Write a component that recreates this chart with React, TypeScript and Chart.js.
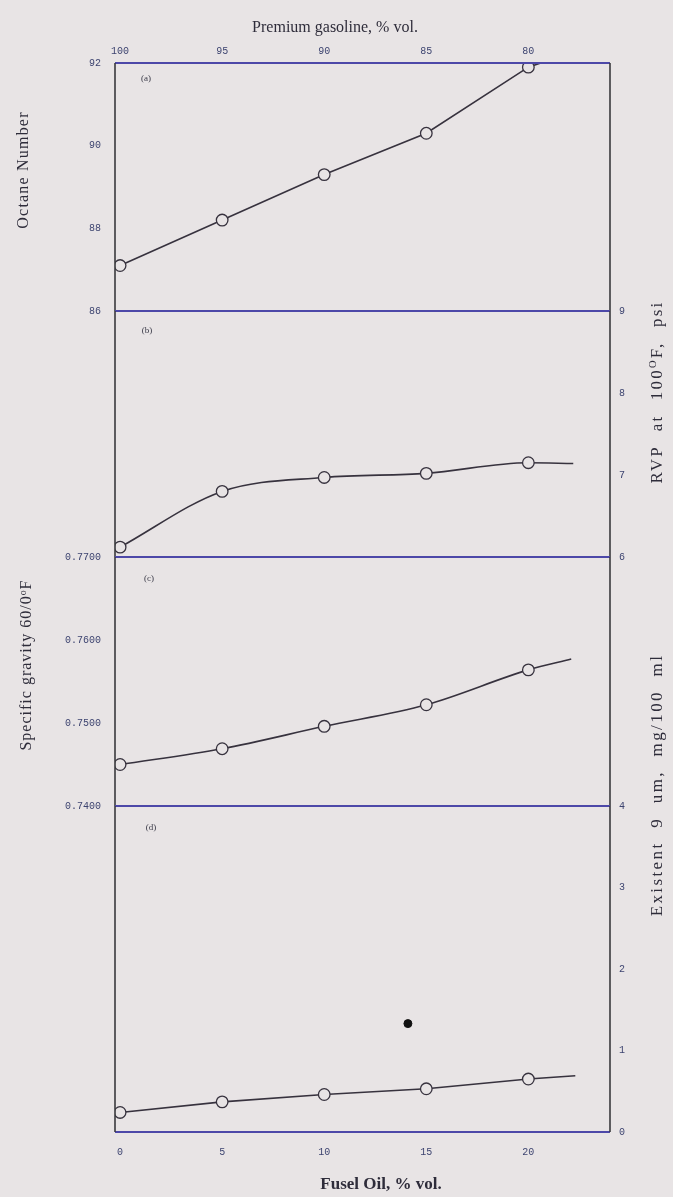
import React, { useEffect, useRef } from "react";
import { Chart, registerables } from "chart.js";

Chart.register(...registerables);

// ---------------- data ----------------
const fuselOil = [0, 5, 10, 15, 20];
const octaneNumber = [87.1, 88.2, 89.3, 90.3, 91.9];
const rvpPsi = [6.12, 6.8, 6.97, 7.02, 7.15];
const specificGravity = [0.745, 0.7469, 0.7496, 0.7522, 0.7564];
const existentGum = [0.24, 0.37, 0.46, 0.53, 0.65];
// where each drawn curve ends beyond the last measured point
const octaneTail = { x: 20.9, y: 92.05 };
const rvpTail = { x: 22.2, y: 7.14 };
const gravityTail = { x: 22.1, y: 0.7577 };
const gumTail = { x: 22.3, y: 0.69 };
// single filled point in panel (d)
const outlierFusel = [14.1];
const outlierGum = [1.33];

const premiumTicks = [100, 95, 90, 85, 80];
const fuselTicks = [0, 5, 10, 15, 20];
const octaneTicks = [86, 88, 90, 92];
const rvpTicks = [6, 7, 8, 9];
const gravityTicks = [0.74, 0.75, 0.76, 0.77];
const gumTicks = [0, 1, 2, 3, 4];

// ---------------- style ----------------
const BG = "#e8e4e5";
const LINE = "#37323e";
const H_FRAME = "#4d48a8";
const V_FRAME = "#3a3a3e";
const TICK_COLOR = "#3d4470";
const X_MIN = -0.25;
const X_MAX = 24.0;
const LEFT_W = 115;
const RIGHT_W = 63;
const PAD = 24;
const tickFont = { family: '"Liberation Mono", "DejaVu Sans Mono", monospace', size: 10 };

const framePlugin = {
  id: "frame",
  afterDraw(chart: any) {
    const { ctx, chartArea } = chart;
    const { left, right, top, bottom } = chartArea;
    ctx.save();
    ctx.lineWidth = 2;
    ctx.strokeStyle = H_FRAME;
    ctx.beginPath();
    ctx.moveTo(left, top);
    ctx.lineTo(right, top);
    ctx.moveTo(left, bottom);
    ctx.lineTo(right, bottom);
    ctx.stroke();
    ctx.lineWidth = 1.6;
    ctx.strokeStyle = V_FRAME;
    ctx.beginPath();
    ctx.moveTo(left, top);
    ctx.lineTo(left, bottom);
    ctx.moveTo(right, top);
    ctx.lineTo(right, bottom);
    ctx.stroke();
    ctx.restore();
  },
};

function makeY(ticks: number[], min: number, max: number, position: string, width: number, fmt: (v: number) => string) {
  return {
    type: "linear",
    position,
    min,
    max,
    grid: { display: false, drawTicks: false },
    border: { display: false },
    ticks: {
      padding: position === "left" ? 14 : 9,
      font: tickFont,
      color: TICK_COLOR,
      callback: (v: any) => fmt(Number(v)),
    },
    afterBuildTicks: (s: any) => {
      s.ticks = ticks.map((v) => ({ value: v }));
    },
    afterFit: (s: any) => {
      s.width = width;
    },
  };
}

function hiddenX() {
  return { type: "linear", min: X_MIN, max: X_MAX, display: false };
}

function curve(ys: number[], tail: { x: number; y: number }, smooth: boolean) {
  return {
    data: [...fuselOil.map((x, i) => ({ x, y: ys[i] })), tail],
    borderColor: LINE,
    borderWidth: 1.6,
    pointRadius: [...fuselOil.map(() => 5.8), 0],
    pointBorderColor: LINE,
    pointBackgroundColor: BG,
    pointBorderWidth: 1.3,
    cubicInterpolationMode: smooth ? "monotone" : "default",
    tension: 0,
    fill: false,
  };
}

function baseOptions(padding: any, scales: any) {
  return {
    responsive: false,
    animation: false,
    devicePixelRatio: 1,
    layout: { padding },
    scales,
    plugins: { legend: { display: false }, tooltip: { enabled: false } },
  };
}

export default function App() {
  const refA = useRef<HTMLCanvasElement>(null);
  const refB = useRef<HTMLCanvasElement>(null);
  const refC = useRef<HTMLCanvasElement>(null);
  const refD = useRef<HTMLCanvasElement>(null);

  useEffect(() => {
    const charts: Chart[] = [];

    charts.push(
      new Chart(refA.current as HTMLCanvasElement, {
        type: "line",
        data: { datasets: [curve(octaneNumber, octaneTail, false) as any] },
        options: baseOptions(
          { top: 0, bottom: PAD, left: 0, right: RIGHT_W },
          {
            x: {
              type: "linear",
              position: "top",
              min: X_MIN,
              max: X_MAX,
              grid: { display: false, drawTicks: false },
              border: { display: false },
              ticks: {
                padding: 6,
                font: tickFont,
                color: TICK_COLOR,
                maxRotation: 0,
                callback: (v: any) => String(100 - Number(v)),
              },
              afterBuildTicks: (s: any) => {
                s.ticks = premiumTicks.map((p) => ({ value: 100 - p }));
              },
              afterFit: (s: any) => {
                s.height = 63;
              },
            },
            y: makeY(octaneTicks, 86, 92, "left", LEFT_W, (v) => String(v)),
          }
        ) as any,
        plugins: [framePlugin],
      })
    );

    charts.push(
      new Chart(refB.current as HTMLCanvasElement, {
        type: "line",
        data: { datasets: [curve(rvpPsi, rvpTail, true) as any] },
        options: baseOptions(
          { top: PAD, bottom: PAD, left: LEFT_W, right: 0 },
          {
            x: hiddenX(),
            y: makeY(rvpTicks, 6, 9, "right", RIGHT_W, (v) => String(v)),
          }
        ) as any,
        plugins: [framePlugin],
      })
    );

    charts.push(
      new Chart(refC.current as HTMLCanvasElement, {
        type: "line",
        data: { datasets: [curve(specificGravity, gravityTail, true) as any] },
        options: baseOptions(
          { top: PAD, bottom: PAD, left: 0, right: RIGHT_W },
          {
            x: hiddenX(),
            y: makeY(gravityTicks, 0.74, 0.77, "left", LEFT_W, (v) => v.toFixed(4)),
          }
        ) as any,
        plugins: [framePlugin],
      })
    );

    charts.push(
      new Chart(refD.current as HTMLCanvasElement, {
        type: "line",
        data: {
          datasets: [
            curve(existentGum, gumTail, false) as any,
            {
              data: outlierFusel.map((x, i) => ({ x, y: outlierGum[i] })),
              showLine: false,
              pointRadius: 4,
              pointBackgroundColor: "#111",
              pointBorderColor: "#111",
              borderColor: "#111",
            } as any,
          ],
        },
        options: baseOptions(
          { top: PAD, bottom: 0, left: LEFT_W, right: 0 },
          {
            x: {
              type: "linear",
              position: "bottom",
              min: X_MIN,
              max: X_MAX,
              grid: { display: false, drawTicks: false },
              border: { display: false },
              ticks: { padding: 14, font: tickFont, color: TICK_COLOR, maxRotation: 0 },
              afterBuildTicks: (s: any) => {
                s.ticks = fuselTicks.map((v) => ({ value: v }));
              },
              afterFit: (s: any) => {
                s.height = 65;
              },
            },
            y: makeY(gumTicks, 0, 4, "right", RIGHT_W, (v) => String(v)),
          }
        ) as any,
        plugins: [framePlugin],
      })
    );

    return () => charts.forEach((c) => c.destroy());
  }, []);

  const serif = '"Liberation Serif", "DejaVu Serif", serif';
  const rotLabel = (cx: number, cy: number, content: React.ReactNode, size: number, extra: any = {}) => (
    <div
      style={{
        position: "absolute",
        left: cx,
        top: cy,
        transform: "translate(-50%, -50%) rotate(-90deg)",
        whiteSpace: "nowrap",
        fontFamily: serif,
        fontSize: size,
        color: "#2e2c3a",
        lineHeight: 1,
        ...extra,
      }}
    >
      {content}
    </div>
  );
  const sup = (t: string) => (
    <span style={{ fontSize: "0.62em", verticalAlign: "0.55em" }}>{t}</span>
  );
  const panelTag = (x: number, y: number, t: string) => (
    <div
      style={{
        position: "absolute",
        left: x,
        top: y,
        transform: "translate(-50%, -50%)",
        fontFamily: serif,
        fontSize: 9,
        color: "#3a3a48",
      }}
    >
      {t}
    </div>
  );

  // chart areas: a 63-311, b 311-557, c 557-806, d 806-1132
  return (
    <div
      style={{
        position: "fixed",
        left: 0,
        top: 0,
        width: 673,
        height: 1197,
        background: BG,
        overflow: "hidden",
      }}
    >
      <canvas ref={refA} width={673} height={311 + PAD} style={{ position: "absolute", left: 0, top: 0 }} />
      <canvas ref={refB} width={673} height={246 + 2 * PAD} style={{ position: "absolute", left: 0, top: 311 - PAD }} />
      <canvas ref={refC} width={673} height={249 + 2 * PAD} style={{ position: "absolute", left: 0, top: 557 - PAD }} />
      <canvas ref={refD} width={673} height={1197 - 806 + PAD} style={{ position: "absolute", left: 0, top: 806 - PAD }} />

      <div
        style={{
          position: "absolute",
          left: 335,
          top: 27,
          transform: "translate(-50%, -50%)",
          whiteSpace: "nowrap",
          fontFamily: serif,
          fontSize: 16,
          color: "#2e2c3a",
        }}
      >
        Premium gasoline, % vol.
      </div>
      <div
        style={{
          position: "absolute",
          left: 381,
          top: 1184,
          transform: "translate(-50%, -50%)",
          whiteSpace: "nowrap",
          fontFamily: serif,
          fontSize: 17,
          fontWeight: "bold",
          color: "#2e2c3a",
        }}
      >
        Fusel Oil, % vol.
      </div>

      {rotLabel(23, 170, "Octane Number", 16, { letterSpacing: "1.2px" })}
      {rotLabel(26, 665, <>Specific gravity 60/0{sup("o")}F</>, 16, { letterSpacing: "1px" })}
      {rotLabel(656, 392, <>RVP at 100{sup("O")}F, psi</>, 17, { letterSpacing: "2.2px", wordSpacing: "8px" })}
      {rotLabel(656, 785, "Existent 9 um, mg/100 ml", 17, { letterSpacing: "2.4px", wordSpacing: "7px" })}

      {panelTag(146, 78, "(a)")}
      {panelTag(147, 330, "(b)")}
      {panelTag(149, 578, "(c)")}
      {panelTag(151, 827, "(d)")}
    </div>
  );
}
